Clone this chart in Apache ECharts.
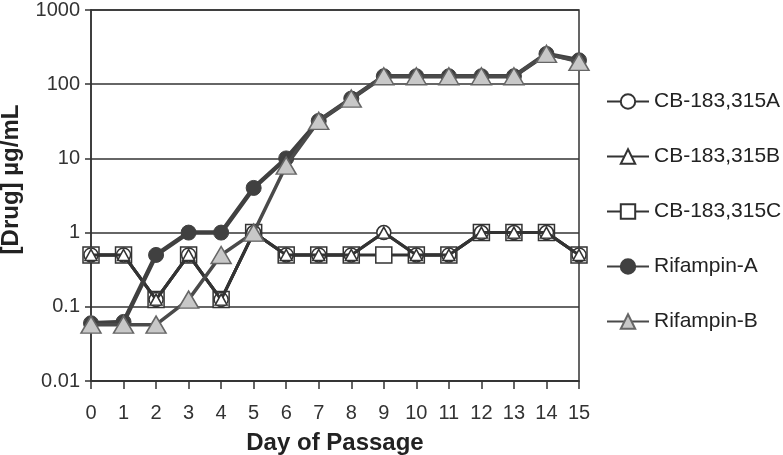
<!DOCTYPE html>
<html>
<head>
<meta charset="utf-8">
<script src="https://cdn.jsdelivr.net/npm/echarts@6/dist/echarts.min.js"></script>
<style>
html,body{margin:0;padding:0;background:#fff;}
#chart{width:783px;height:455px;}
</style>
</head>
<body>
<div id="chart"></div>
<script>
var days = ['0','1','2','3','4','5','6','7','8','9','10','11','12','13','14','15'];
var cbA = [0.5,0.5,0.125,0.5,0.125,1,0.5,0.5,0.5,1,0.5,0.5,1,1,1,0.5];
var cbB = [0.5,0.5,0.125,0.5,0.125,1,0.5,0.5,0.5,1,0.5,0.5,1,1,1,0.5];
var cbC = [0.5,0.5,0.125,0.5,0.125,1,0.5,0.5,0.5,0.5,0.5,0.5,1,1,1,0.5];
var rifA = [0.06,0.0625,0.5,1,1,4,10,32,64,128,128,128,128,128,256,210];
var rifB = [0.0575,0.0575,0.0575,0.125,0.5,1,8,32,64,128,128,128,128,128,256,200];
var seriesNames = ['CB-183,315A','CB-183,315B','CB-183,315C','Rifampin-A','Rifampin-B'];

var dark = '#333333';
var font = 'Liberation Sans, Arial, Helvetica, sans-serif';

var chart = echarts.init(document.getElementById('chart'));
chart.setOption({
  animation: false,
  backgroundColor: '#fff',
  grid: {
    left: 91, right: 204, top: 10, bottom: 74,
    containLabel: false,
    outerBoundsMode: 'none',
    show: true, borderColor: dark, borderWidth: 1.5
  },
  legend: {
    data: seriesNames,
    orient: 'vertical',
    left: 601,
    top: 86,
    padding: 5,
    itemWidth: 42,
    itemHeight: 18,
    itemGap: 34,
    textStyle: { fontFamily: font, fontSize: 21, color: '#222' }
  },
  xAxis: {
    type: 'category',
    data: days,
    boundaryGap: false,
    name: 'Day of Passage',
    nameLocation: 'middle',
    nameGap: 50,
    nameTextStyle: { fontFamily: font, fontSize: 24, fontWeight: 'bold', color: '#222' },
    axisLine: { lineStyle: { color: dark, width: 1.5 } },
    axisTick: { length: 8, alignWithLabel: true, lineStyle: { color: dark, width: 1.5 } },
    axisLabel: { fontFamily: font, fontSize: 20, color: '#333', margin: 22, interval: 0 },
    splitLine: { show: false }
  },
  yAxis: {
    type: 'log',
    logBase: 10,
    min: 0.01,
    max: 1000,
    name: '[Drug] µg/mL',
    nameLocation: 'middle',
    nameGap: 68,
    nameTextStyle: { fontFamily: font, fontSize: 24, fontWeight: 'bold', color: '#222', padding: [0,0,0,32] },
    axisLine: { show: true, lineStyle: { color: dark, width: 1.5 } },
    axisTick: { show: true, length: 6, lineStyle: { color: dark, width: 1.5 } },
    axisLabel: {
      fontFamily: font, fontSize: 20, color: '#333', margin: 11,
      formatter: function (v) { return String(parseFloat(Number(v).toPrecision(6))); }
    },
    splitLine: { show: true, lineStyle: { color: dark, width: 1.5 } },
    minorTick: { show: false }
  },
  series: [
    {
      name: 'CB-183,315C', type: 'line', data: cbC, z: 2,
      symbol: 'rect', symbolSize: 16,
      lineStyle: { color: dark, width: 3 },
      itemStyle: { color: '#fff', borderColor: dark, borderWidth: 1.5 }
    },
    {
      name: 'CB-183,315A', type: 'line', data: cbA, z: 3,
      symbol: 'circle', symbolSize: 14,
      lineStyle: { color: dark, width: 3 },
      itemStyle: { color: '#fff', borderColor: dark, borderWidth: 1.5 }
    },
    {
      name: 'CB-183,315B', type: 'line', data: cbB, z: 4,
      symbol: 'triangle', symbolSize: [12, 11],
      lineStyle: { color: dark, width: 3 },
      itemStyle: { color: '#fff', borderColor: dark, borderWidth: 1.5 }
    },
    {
      name: 'Rifampin-A', type: 'line', data: rifA, z: 5,
      symbol: 'circle', symbolSize: 15,
      lineStyle: { color: '#404040', width: 4.5 },
      itemStyle: { color: '#404040', borderColor: '#404040', borderWidth: 1 }
    },
    {
      name: 'Rifampin-B', type: 'line', data: rifB, z: 6,
      symbol: 'triangle', symbolSize: [20, 17],
      lineStyle: { color: '#4a4a4a', width: 3.5 },
      itemStyle: { color: '#c8c8c8', borderColor: '#666', borderWidth: 1.5 }
    }
  ]
});
</script>
</body>
</html>
